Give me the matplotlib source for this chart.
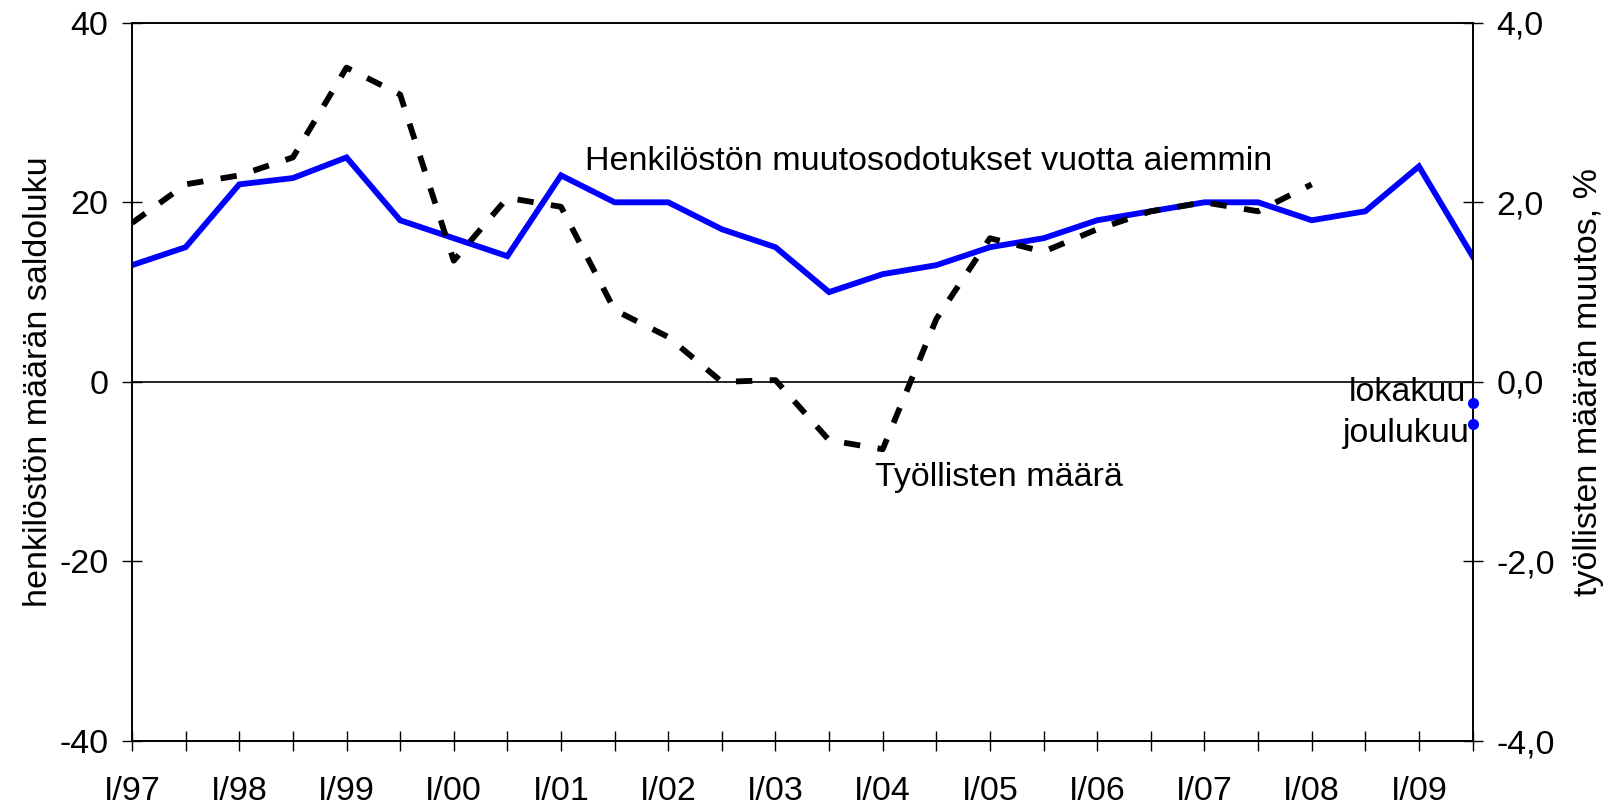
import numpy as np
import matplotlib
matplotlib.use("Agg")
import matplotlib.pyplot as plt

plt.rcParams['font.family'] = ['Liberation Sans', 'DejaVu Sans']
plt.rcParams['axes.unicode_minus'] = False

# half-year periods, I/97 ... III/09
year_labels = ['I/97', 'I/98', 'I/99', 'I/00', 'I/01', 'I/02', 'I/03',
               'I/04', 'I/05', 'I/06', 'I/07', 'I/08', 'I/09']

# henkilöstön muutosodotukset (saldoluku), vasen akseli
odotukset = [13, 15, 22, 22.7, 25, 18, 16, 14, 23, 20, 20, 17, 15,
             10, 12, 13, 15, 16, 18, 19, 20, 20, 18, 19, 24, 14]

# työllisten määrän muutos %, oikea akseli
tyolliset = [1.77, 2.2, 2.3, 2.5, 3.5, 3.2, 1.35, 2.05, 1.95, 0.8, 0.5,
             0.0, 0.02, -0.65, -0.75, 0.7, 1.6, 1.45, 1.7, 1.9, 2.0, 1.9, 2.2]

# kuukausiluvut lopussa
kk_labels = ['lokakuu', 'joulukuu']
kk_values = [-0.23, -0.47]

x_odot = np.arange(len(odotukset)) * 0.5
x_tyol = np.arange(len(tyolliset)) * 0.5

fs = 24.5

fig = plt.figure(figsize=(16.18, 8.06), dpi=100)
ax = fig.add_axes([0.0816, 0.0806, 0.8285, 0.8912])
ax2 = ax.twinx()

ax.plot(x_odot, odotukset, color='#0000ff', lw=4.2, solid_joinstyle='miter', zorder=3)
ax2.plot(x_tyol, tyolliset, color='black', lw=4.2, dashes=(2.8, 3.0), zorder=2)

ax.axhline(0, color='black', lw=1.2, zorder=1)

ax.set_xlim(0, 12.5)
ax.set_ylim(-40, 40)
ax2.set_ylim(-4, 4)

ax.set_yticks([-40, -20, 0, 20, 40])
ax2.set_yticks([-4, -2, 0, 2, 4])
ax2.set_yticklabels(['-4,0', '-2,0', '0,0', '2,0', '4,0'])

ax.set_xticks(np.arange(0, 12.51, 0.5), minor=True)
ax.set_xticks(np.arange(len(year_labels)))
ax.set_xticklabels(year_labels)

ax.tick_params(axis='x', which='both', direction='inout', length=15, width=1, pad=18, labelsize=fs)
ax.tick_params(axis='y', direction='inout', length=14, width=1, pad=10, labelsize=fs)
ax2.tick_params(axis='y', direction='inout', length=14, width=1, pad=10, labelsize=fs)

for a in (ax, ax2):
    for s in a.spines.values():
        s.set_linewidth(1.2)

ax.set_ylabel('henkilöstön määrän saldoluku', fontsize=fs, labelpad=4)
ax2.set_ylabel('työllisten määrän muutos, %', fontsize=fs, labelpad=13)

ax2.plot([12.5, 12.5], kk_values, 'o', color='#0000ff', ms=7, clip_on=False, zorder=4)
ax2.annotate(kk_labels[0], (12.5, kk_values[0]), xytext=(-6, 10), textcoords='offset pixels',
             ha='right', va='center', fontsize=fs)
ax2.annotate(kk_labels[1], (12.5, kk_values[1]), xytext=(-3, -9), textcoords='offset pixels',
             ha='right', va='center', fontsize=fs)

ax.text(4.22, 24.5, 'Henkilöstön muutosodotukset vuotta aiemmin', fontsize=fs, va='center')
ax.text(6.93, -10.7, 'Työllisten määrä', fontsize=fs, va='center')

fig.savefig('out.png', dpi=100)
